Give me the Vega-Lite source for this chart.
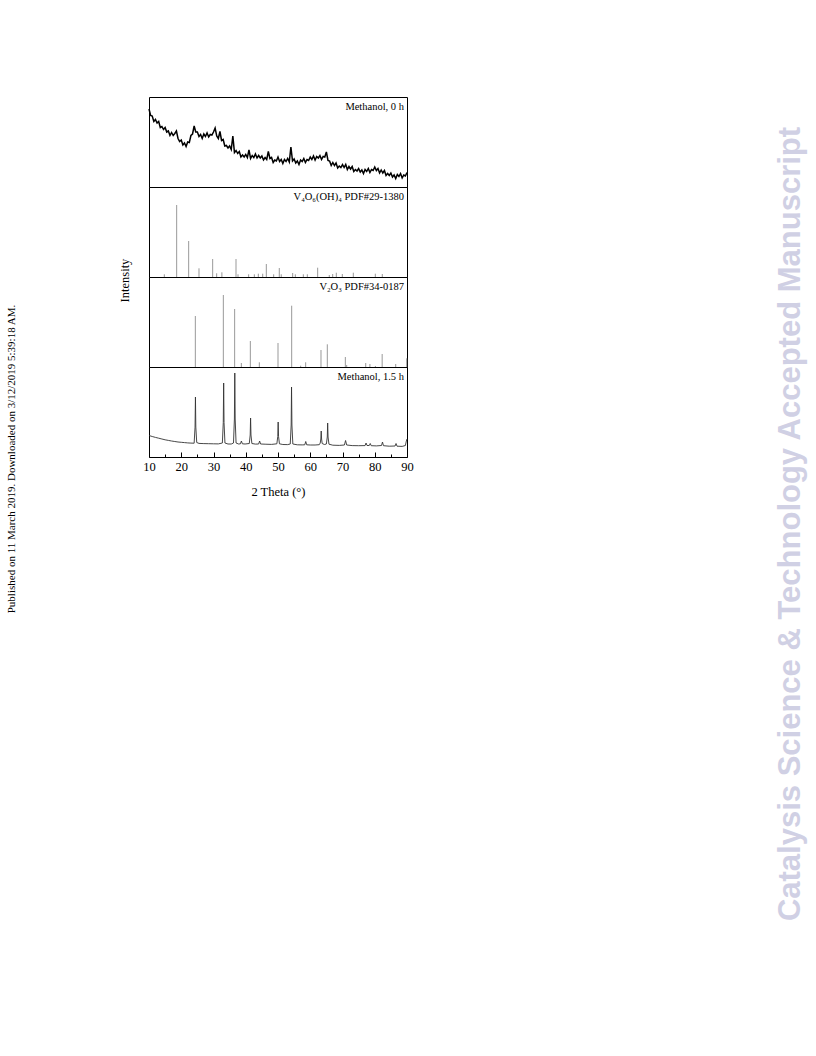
{
  "$schema": "https://vega.github.io/schema/vega-lite/v6.json",
  "padding": {"left": 0, "top": 96, "right": 0, "bottom": 0},
  "background": "white",
  "config": {"view": {"stroke": "#000", "strokeWidth": 1}, "font": "Liberation Serif", "axis": {"grid": false}},
  "datasets": {
    "scan0": [
      {"t":10,"i":78},{"t":10.5,"i":71.5},{"t":11,"i":71},{"t":11.5,"i":65.5},{"t":12,"i":67.5},{"t":12.5,"i":64},{"t":13,"i":65.5},{"t":13.5,"i":59.5},{"t":14,"i":60.5},{"t":14.5,"i":57.5},
      {"t":15,"i":59.5},{"t":15.5,"i":55},{"t":16,"i":56},{"t":16.5,"i":51.5},{"t":17,"i":54.5},{"t":17.5,"i":51.5},{"t":18,"i":53.5},{"t":18.5,"i":56},{"t":19,"i":48.5},{"t":19.5,"i":45.5},
      {"t":20,"i":47},{"t":20.5,"i":42},{"t":21,"i":44},{"t":21.5,"i":40.5},{"t":22,"i":45},{"t":22.5,"i":44.5},{"t":23,"i":51.5},{"t":23.5,"i":53},{"t":24,"i":61},{"t":24.5,"i":55},
      {"t":25,"i":55},{"t":25.5,"i":50.5},{"t":26,"i":52.5},{"t":26.5,"i":48.5},{"t":27,"i":53},{"t":27.5,"i":50.5},{"t":28,"i":54},{"t":28.5,"i":50},{"t":29,"i":52.5},{"t":29.5,"i":52},
      {"t":30,"i":55},{"t":30.5,"i":59},{"t":31,"i":51},{"t":31.5,"i":48.5},{"t":32,"i":55.5},{"t":32.5,"i":46.5},{"t":33,"i":47.5},{"t":33.5,"i":41},{"t":34,"i":41.5},{"t":34.5,"i":39},
      {"t":35,"i":41},{"t":35.5,"i":37.5},{"t":36,"i":51},{"t":36.5,"i":34.5},{"t":37,"i":36.5},{"t":37.5,"i":33.5},{"t":38,"i":35.5},{"t":38.5,"i":30},{"t":39,"i":32},{"t":39.5,"i":30},
      {"t":40,"i":32.5},{"t":40.5,"i":29.5},{"t":41,"i":37},{"t":41.5,"i":28.5},{"t":42,"i":31.5},{"t":42.5,"i":29.5},{"t":43,"i":33},{"t":43.5,"i":29},{"t":44,"i":31.5},{"t":44.5,"i":29},
      {"t":45,"i":31},{"t":45.5,"i":27},{"t":46,"i":29.5},{"t":46.5,"i":27.5},{"t":47,"i":35.5},{"t":47.5,"i":28.5},{"t":48,"i":29.5},{"t":48.5,"i":24.5},{"t":49,"i":27},{"t":49.5,"i":26},
      {"t":50,"i":30},{"t":50.5,"i":25.5},{"t":51,"i":27.5},{"t":51.5,"i":23.5},{"t":52,"i":27.5},{"t":52.5,"i":25.5},{"t":53,"i":28.5},{"t":53.5,"i":25},{"t":54,"i":40},{"t":54.5,"i":26},
      {"t":55,"i":28},{"t":55.5,"i":24},{"t":56,"i":26},{"t":56.5,"i":22.5},{"t":57,"i":27},{"t":57.5,"i":25.5},{"t":58,"i":28.5},{"t":58.5,"i":24.5},{"t":59,"i":27.5},{"t":59.5,"i":26.5},
      {"t":60,"i":30},{"t":60.5,"i":27.5},{"t":61,"i":31},{"t":61.5,"i":27},{"t":62,"i":30.5},{"t":62.5,"i":29},{"t":63,"i":31.5},{"t":63.5,"i":27.5},{"t":64,"i":30.5},{"t":64.5,"i":30},
      {"t":65,"i":35},{"t":65.5,"i":26.5},{"t":66,"i":26},{"t":66.5,"i":21.5},{"t":67,"i":24.5},{"t":67.5,"i":21.5},{"t":68,"i":24},{"t":68.5,"i":19},{"t":69,"i":21},{"t":69.5,"i":19.5},
      {"t":70,"i":22.5},{"t":70.5,"i":19.5},{"t":71,"i":22.5},{"t":71.5,"i":17.5},{"t":72,"i":20.5},{"t":72.5,"i":18},{"t":73,"i":20.5},{"t":73.5,"i":15.5},{"t":74,"i":17.5},{"t":74.5,"i":16},
      {"t":75,"i":18.5},{"t":75.5,"i":15},{"t":76,"i":17},{"t":76.5,"i":13.5},{"t":77,"i":17.5},{"t":77.5,"i":15.5},{"t":78,"i":18.5},{"t":78.5,"i":14.5},{"t":79,"i":17.5},{"t":79.5,"i":16.5},
      {"t":80,"i":20},{"t":80.5,"i":16.5},{"t":81,"i":18.5},{"t":81.5,"i":14},{"t":82,"i":17},{"t":82.5,"i":14},{"t":83,"i":16.5},{"t":83.5,"i":11.5},{"t":84,"i":13.5},{"t":84.5,"i":11.5},
      {"t":85,"i":14},{"t":85.5,"i":10},{"t":86,"i":12},{"t":86.5,"i":8.5},{"t":87,"i":12.5},{"t":87.5,"i":10.5},{"t":88,"i":13.5},{"t":88.5,"i":9},{"t":89,"i":12},{"t":89.5,"i":11},{"t":90,"i":14.5}
    ],
    "v4o6": [
      {"t":14.75,"i":2.7},{"t":18.58,"i":72},{"t":22.3,"i":36},{"t":25.5,"i":8.7},{"t":29.74,"i":18},{"t":30.98,"i":3.7},{"t":32.6,"i":4.7},{"t":36.98,"i":18},{"t":37.6,"i":2.7},{"t":40.9,"i":2.7},
      {"t":42.66,"i":2.7},{"t":43.9,"i":3.3},{"t":45.26,"i":3.3},{"t":46.38,"i":13},{"t":48.66,"i":2.7},{"t":50.4,"i":9},{"t":51.0,"i":2.7},{"t":54.55,"i":4},{"t":55.37,"i":2.7},{"t":57.85,"i":2.7},
      {"t":59.09,"i":2.7},{"t":62.3,"i":9.3},{"t":65.9,"i":2},{"t":66.96,"i":3},{"t":68.08,"i":4.3},{"t":69.94,"i":3},{"t":73.35,"i":4.3},{"t":80.17,"i":3.3},{"t":82.34,"i":3}
    ],
    "v2o3": [
      {"t":24.37,"i":51},{"t":33.05,"i":72},{"t":36.56,"i":58},{"t":38.63,"i":4},{"t":41.42,"i":26},{"t":44.21,"i":4.7},{"t":50.0,"i":24},{"t":54.24,"i":61.3},{"t":57.03,"i":1.3},{"t":58.58,"i":4.7},
      {"t":63.33,"i":17},{"t":65.29,"i":22.7},{"t":70.88,"i":10},{"t":71.3,"i":2},{"t":77.2,"i":4},{"t":78.5,"i":3},{"t":80.2,"i":1},{"t":82.3,"i":13},{"t":86.5,"i":3},{"t":89.9,"i":8.7}
    ],
    "scan15": [
      {"t":10,"i":21.5},{"t":11,"i":20.5},{"t":12,"i":19.6},{"t":13,"i":18.8},{"t":14,"i":18},{"t":15,"i":17.2},{"t":16,"i":16.6},{"t":17,"i":16},{"t":18,"i":15.5},{"t":19,"i":15},
      {"t":20,"i":14.7},{"t":21,"i":14.4},{"t":22,"i":14.1},{"t":23,"i":13.9},{"t":24,"i":13.8},
      {"t":24.28,"i":29.9},{"t":24.4,"i":60},{"t":24.52,"i":29.9},{"t":24.8,"i":14.5},
      {"t":25.5,"i":13.6},{"t":27,"i":13.4},{"t":28.5,"i":13.3},{"t":30,"i":13.2},{"t":31.5,"i":13.1},
      {"t":32.75,"i":14},{"t":33.03,"i":34.5},{"t":33.15,"i":74},{"t":33.27,"i":34.5},{"t":33.55,"i":14},
      {"t":34.5,"i":13},{"t":35.5,"i":13},
      {"t":36.2,"i":14},{"t":36.48,"i":38},{"t":36.6,"i":84},{"t":36.72,"i":38},{"t":37.0,"i":14},
      {"t":37.8,"i":13},{"t":38.35,"i":13.2},{"t":38.65,"i":16},{"t":38.95,"i":13.2},{"t":39.8,"i":13},
      {"t":41.1,"i":13.5},{"t":41.38,"i":22},{"t":41.5,"i":39},{"t":41.62,"i":22},{"t":41.9,"i":13.5},
      {"t":43,"i":12.9},{"t":44.0,"i":13},{"t":44.3,"i":16},{"t":44.6,"i":13},{"t":46,"i":12.8},{"t":48,"i":12.6},
      {"t":49.65,"i":13.2},{"t":49.93,"i":20.5},{"t":50.05,"i":35},{"t":50.17,"i":20.5},{"t":50.45,"i":13.2},
      {"t":51.5,"i":12.5},{"t":53,"i":12.4},
      {"t":53.8,"i":13},{"t":54.08,"i":32},{"t":54.2,"i":70},{"t":54.32,"i":32},{"t":54.6,"i":13},
      {"t":56,"i":12.2},{"t":57.5,"i":12.1},{"t":58.3,"i":12.2},{"t":58.6,"i":15.5},{"t":58.9,"i":12.2},{"t":60,"i":12},{"t":61.5,"i":12},
      {"t":62.8,"i":12.3},{"t":63.1,"i":14},{"t":63.28,"i":18},{"t":63.4,"i":26},{"t":63.52,"i":18},{"t":63.7,"i":13.5},
      {"t":64.4,"i":12.5},{"t":65.0,"i":13},{"t":65.28,"i":20},{"t":65.4,"i":34},{"t":65.52,"i":20},{"t":65.8,"i":12.8},
      {"t":67,"i":11.8},{"t":69,"i":11.6},{"t":70.6,"i":12},{"t":70.95,"i":16.5},{"t":71.3,"i":12},
      {"t":73,"i":11.4},{"t":75,"i":11.3},{"t":77.0,"i":11.4},{"t":77.3,"i":14},{"t":77.6,"i":11.5},
      {"t":78.3,"i":11.5},{"t":78.6,"i":13.5},{"t":78.9,"i":11.3},{"t":80.5,"i":11.1},
      {"t":82.1,"i":11.5},{"t":82.4,"i":15},{"t":82.7,"i":11.3},{"t":84.5,"i":10.8},
      {"t":86.3,"i":11},{"t":86.6,"i":13.5},{"t":86.9,"i":10.8},{"t":88.5,"i":10.6},{"t":89.5,"i":11.5},{"t":89.8,"i":16},{"t":90,"i":18}
    ]
  },
  "spacing": 357,
  "hconcat": [
    {
      "spacing": 94,
      "hconcat": [
        {
          "width": 23, "height": 724,
          "view": {"stroke": null},
          "data": {"values": [{"t": "Published on 11 March 2019. Downloaded on 3/12/2019 5:39:18 AM."}]},
          "mark": {"type": "text", "angle": 270, "font": "Liberation Serif", "fontSize": 11, "align": "center", "baseline": "middle", "color": "#000"},
          "encoding": {"text": {"field": "t"}}
        },
        {
          "spacing": 0,
          "bounds": "flush",
          "vconcat": [
            {
              "width": 258, "height": 90,
              "layer": [
                {
                  "data": {"name": "scan0"},
                  "mark": {"type": "line", "color": "#000", "strokeWidth": 1.5},
                  "encoding": {
                    "x": {"field": "t", "type": "quantitative", "scale": {"domain": [10, 90], "nice": false, "zero": false}, "axis": null},
                    "y": {"field": "i", "type": "quantitative", "scale": {"domain": [0, 90], "nice": false}, "axis": null}
                  }
                },
                {
                  "data": {"values": [{"label": "Methanol, 0 h"}]},
                  "mark": {"type": "text", "align": "right", "baseline": "top", "dx": -3, "dy": 5, "font": "Liberation Serif", "fontSize": 10.5, "color": "#000"},
                  "encoding": {
                    "x": {"datum": 90, "type": "quantitative", "axis": null},
                    "y": {"datum": 90, "type": "quantitative", "axis": null},
                    "text": {"field": "label"}
                  }
                }
              ]
            },
            {
              "width": 258, "height": 90,
              "layer": [
                {
                  "data": {"name": "v4o6"},
                  "mark": {"type": "rule", "color": "#999999", "strokeWidth": 1},
                  "encoding": {
                    "x": {"field": "t", "type": "quantitative", "scale": {"domain": [10, 90], "nice": false, "zero": false}, "axis": null},
                    "y": {"field": "i", "type": "quantitative", "scale": {"domain": [0, 90], "nice": false},
                          "axis": {"title": "Intensity", "labels": false, "ticks": false, "domain": false, "grid": false, "titleY": 93, "titlePadding": 18, "titleFont": "Liberation Serif", "titleFontSize": 12.5, "titleFontWeight": "normal", "titleColor": "#000"}},
                    "y2": {"datum": 0}
                  }
                },
                {
                  "data": {"values": [{"label": "V₄O₆(OH)₄ PDF#29-1380"}]},
                  "mark": {"type": "text", "align": "right", "baseline": "top", "dx": -3, "dy": 5, "font": "Liberation Serif", "fontSize": 10.5, "color": "#000"},
                  "encoding": {
                    "x": {"datum": 90, "type": "quantitative", "axis": null},
                    "y": {"datum": 90, "type": "quantitative",
                          "axis": {"title": "Intensity", "labels": false, "ticks": false, "domain": false, "grid": false, "titleY": 93, "titlePadding": 18, "titleFont": "Liberation Serif", "titleFontSize": 12.5, "titleFontWeight": "normal", "titleColor": "#000"}},
                    "text": {"field": "label"}
                  }
                }
              ]
            },
            {
              "width": 258, "height": 90,
              "layer": [
                {
                  "data": {"name": "v2o3"},
                  "mark": {"type": "rule", "color": "#999999", "strokeWidth": 1},
                  "encoding": {
                    "x": {"field": "t", "type": "quantitative", "scale": {"domain": [10, 90], "nice": false, "zero": false}, "axis": null},
                    "y": {"field": "i", "type": "quantitative", "scale": {"domain": [0, 90], "nice": false}, "axis": null},
                    "y2": {"datum": 0}
                  }
                },
                {
                  "data": {"values": [{"label": "V₂O₃ PDF#34-0187"}]},
                  "mark": {"type": "text", "align": "right", "baseline": "top", "dx": -3, "dy": 5, "font": "Liberation Serif", "fontSize": 10.5, "color": "#000"},
                  "encoding": {
                    "x": {"datum": 90, "type": "quantitative", "axis": null},
                    "y": {"datum": 90, "type": "quantitative", "axis": null},
                    "text": {"field": "label"}
                  }
                }
              ]
            },
            {
              "width": 258, "height": 90,
              "layer": [
                {
                  "data": {"name": "scan15"},
                  "mark": {"type": "line", "color": "#333333", "strokeWidth": 0.9},
                  "encoding": {
                    "x": {"field": "t", "type": "quantitative", "scale": {"domain": [10, 90], "nice": false, "zero": false},
                          "axis": {"values": [10,15,20,25,30,35,40,45,50,55,60,65,70,75,80,85,90], "labelExpr": "datum.value % 10 === 0 ? datum.label : ''",
                                   "tickSize": {"condition": {"test": "datum.value % 10 === 0", "value": -5}, "value": -3},
                                   "tickColor": "#000", "tickWidth": 1, "domain": false, "grid": false,
                                   "labelFont": "Liberation Serif", "labelFontSize": 12.5, "labelColor": "#000", "labelPadding": 8, "labelFlush": false, "labelOverlap": false,
                                   "title": "2 Theta (°)", "titleFont": "Liberation Serif", "titleFontSize": 12.5, "titleFontWeight": "normal", "titleColor": "#000", "titlePadding": 11}},
                    "y": {"field": "i", "type": "quantitative", "scale": {"domain": [0, 90], "nice": false}, "axis": null}
                  }
                },
                {
                  "data": {"values": [{"label": "Methanol, 1.5 h"}]},
                  "mark": {"type": "text", "align": "right", "baseline": "top", "dx": -3, "dy": 5, "font": "Liberation Serif", "fontSize": 10.5, "color": "#000"},
                  "encoding": {
                    "x": {"datum": 90, "type": "quantitative",
                          "axis": {"values": [10,15,20,25,30,35,40,45,50,55,60,65,70,75,80,85,90], "labelExpr": "datum.value % 10 === 0 ? datum.label : ''",
                                   "tickSize": {"condition": {"test": "datum.value % 10 === 0", "value": -5}, "value": -3},
                                   "tickColor": "#000", "tickWidth": 1, "domain": false, "grid": false,
                                   "labelFont": "Liberation Serif", "labelFontSize": 12.5, "labelColor": "#000", "labelPadding": 8, "labelFlush": false, "labelOverlap": false,
                                   "title": "2 Theta (°)", "titleFont": "Liberation Serif", "titleFontSize": 12.5, "titleFontWeight": "normal", "titleColor": "#000", "titlePadding": 11}},
                    "y": {"datum": 90, "type": "quantitative", "axis": null},
                    "text": {"field": "label"}
                  }
                }
              ]
            }
          ]
        }
      ]
    },
    {
      "width": 40, "height": 854,
      "view": {"stroke": null},
      "data": {"values": [{"t": "Catalysis Science & Technology Accepted Manuscript"}]},
      "mark": {"type": "text", "angle": 270, "font": "Liberation Sans", "fontWeight": "bold", "fontSize": 31, "align": "center", "baseline": "middle", "color": "#d0d0e4"},
      "encoding": {"text": {"field": "t"}}
    }
  ]
}
